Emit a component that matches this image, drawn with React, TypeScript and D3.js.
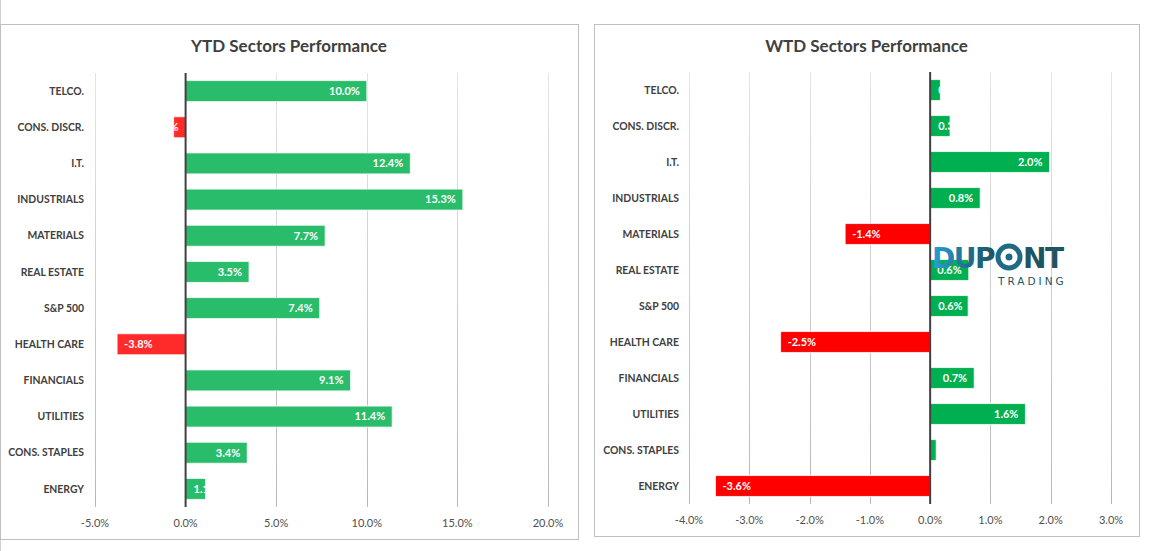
import React from 'react';
import * as d3 from 'd3';

const sectors = ['TELCO.', 'CONS. DISCR.', 'I.T.', 'INDUSTRIALS', 'MATERIALS', 'REAL ESTATE', 'S&P 500', 'HEALTH CARE', 'FINANCIALS', 'UTILITIES', 'CONS. STAPLES', 'ENERGY'];
const ytdValues = [10.0, -0.66, 12.4, 15.3, 7.7, 3.5, 7.4, -3.78, 9.1, 11.4, 3.4, 1.1];
const wtdValues = [0.17, 0.33, 1.98, 0.83, -1.41, 0.64, 0.63, -2.48, 0.73, 1.58, 0.1, -3.56];
const ytdTicks = [-5, 0, 5, 10, 15, 20];
const wtdTicks = [-4, -3, -2, -1, 0, 1, 2, 3];

const FONT = 'Lato, "Open Sans", sans-serif';

let ctx: CanvasRenderingContext2D | null = null;
const textWidth = (s: string) => {
  if (!ctx) ctx = document.createElement('canvas').getContext('2d');
  if (!ctx) return s.length * 6;
  ctx.font = 'bold 11px Lato, sans-serif';
  return ctx.measureText(s).width;
};

interface ChartProps {
  id: string;
  title: string;
  values: number[];
  ticks: number[];
  box: { x0: number; y0: number; x1: number; y1: number };
  plot: { left: number; right: number; top: number; bottom: number };
  labelRight: number;
  pos: string;
  neg: string;
}

const SectorChart = ({ id, title, values, ticks, box, plot, labelRight, pos, neg }: ChartProps) => {
  const x = d3.scaleLinear()
    .domain([ticks[0], ticks[ticks.length - 1]])
    .range([plot.left, plot.right]);
  const y = d3.scaleBand<string>()
    .domain(sectors)
    .range([plot.top, plot.bottom])
    .paddingInner(0.42)
    .paddingOuter(0.21);
  const pad = 7;

  return (
    <g>
      <defs>
        <linearGradient id={`grid-${id}`} gradientUnits="userSpaceOnUse" x1={0} y1={plot.top} x2={0} y2={plot.bottom}>
          <stop offset="0%" stopColor="#e4e4e4" />
          <stop offset="100%" stopColor="#b8b8b8" />
        </linearGradient>
      </defs>
      <rect x={box.x0 + 0.5} y={box.y0 + 0.5} width={box.x1 - box.x0} height={box.y1 - box.y0}
        fill="#fff" stroke="#bfbfbf" strokeWidth={1} />
      <text x={(box.x0 + box.x1) / 2} y={box.y0 + 28} textAnchor="middle" fontFamily={FONT}
        fontWeight="bold" fontSize={17} fill="#404040">{title}</text>

      {ticks.filter(t => t !== 0).map(t => (
        <line key={t} x1={Math.round(x(t)) + 0.5} x2={Math.round(x(t)) + 0.5} y1={plot.top} y2={plot.bottom}
          stroke={`url(#grid-${id})`} strokeWidth={1} />
      ))}

      {ticks.map(t => (
        <text key={t} x={x(t)} y={plot.bottom + 16} dy="0.35em" textAnchor="middle" fontFamily={FONT}
          fontSize={11} fill="#4f4f4f">{`${t.toFixed(1)}%`}</text>
      ))}

      {sectors.map(s => (
        <text key={s} x={labelRight} y={(y(s) ?? 0) + y.bandwidth() / 2} dy="0.35em" textAnchor="end"
          fontFamily={FONT} fontWeight="bold" fontSize={10.4} fill="#404040">{s}</text>
      ))}

      {values.map((v, i) => {
        const s = sectors[i];
        const by = y(s) ?? 0;
        const x0 = x(Math.min(0, v));
        const x1 = x(Math.max(0, v));
        const w = x1 - x0;
        const label = `${v.toFixed(1)}%`;
        const fits = textWidth(label) + pad * 2 <= w;
        let tx: number;
        let anchor: 'start' | 'end';
        if (v >= 0) {
          if (fits) { tx = x1 - pad; anchor = 'end'; } else { tx = x0 + pad + 1; anchor = 'start'; }
        } else {
          if (fits) { tx = x0 + pad; anchor = 'start'; } else { tx = x1 - pad; anchor = 'end'; }
        }
        return (
          <g key={s}>
            <clipPath id={`clip-${id}-${i}`}>
              <rect x={x0} y={by} width={w} height={y.bandwidth()} />
            </clipPath>
            <rect x={x0} y={by} width={w} height={y.bandwidth()} fill={v >= 0 ? pos : neg}
              stroke="#ffffff" strokeOpacity={0.75} strokeWidth={1} />
            <text x={tx} y={by + y.bandwidth() / 2} dy="0.35em" textAnchor={anchor}
              clipPath={`url(#clip-${id}-${i})`} fontFamily={FONT} fontWeight="bold" fontSize={11}
              fill="#ffffff">{label}</text>
          </g>
        );
      })}

      <line x1={x(0)} x2={x(0)} y1={plot.top} y2={plot.bottom} stroke="#404040" strokeWidth={2} />
    </g>
  );
};

const Logo = ({ x, y }: { x: number; y: number }) => (
  <g transform={`translate(${x},${y})`}>
    <defs>
      <linearGradient id="logo-grad" x1="0" y1="0" x2="1" y2="0">
        <stop offset="0%" stopColor="#2a9fdc" />
        <stop offset="55%" stopColor="#1f6f8c" />
        <stop offset="100%" stopColor="#1d5563" />
      </linearGradient>
    </defs>
    <text x={0} y={25} fontFamily='"DejaVu Sans", sans-serif' fontWeight="bold" fontSize={28}
      fill="url(#logo-grad)" letterSpacing={-1.5}>DUP</text>
    <circle cx={77} cy={14} r={11} fill="none" stroke="#1f6a84" strokeWidth={5} />
    <circle cx={77} cy={14} r={3.5} fill="#1f6a84" />
    <text x={91} y={25} fontFamily='"DejaVu Sans", sans-serif' fontWeight="bold" fontSize={28}
      fill="#1d5563" letterSpacing={-1.5}>NT</text>
    <text x={66} y={42} fontFamily='"DejaVu Sans", sans-serif' fontSize={10.5} fill="#1d5563"
      letterSpacing={3}>TRADING</text>
  </g>
);

const App = () => (
  <div style={{ position: 'absolute', left: 0, top: 0 }}>
    <svg width={1152} height={551} style={{ display: 'block', background: '#fff' }}>
      <line x1={0.5} x2={0.5} y1={0} y2={551} stroke="#d0d0d0" />
      <SectorChart id="ytd" title="YTD Sectors Performance" values={ytdValues} ticks={ytdTicks}
        box={{ x0: 0, y0: 24, x1: 578, y1: 539 }}
        plot={{ left: 95, right: 548, top: 73, bottom: 507 }}
        labelRight={84} pos="#29bd6b" neg="#ff2a2a" />
      <SectorChart id="wtd" title="WTD Sectors Performance" values={wtdValues} ticks={wtdTicks}
        box={{ x0: 594, y0: 24, x1: 1139, y1: 536 }}
        plot={{ left: 689, right: 1111, top: 72, bottom: 504 }}
        labelRight={679} pos="#00b050" neg="#ff0000" />
      <Logo x={932} y={243} />
    </svg>
  </div>
);

export default App;
